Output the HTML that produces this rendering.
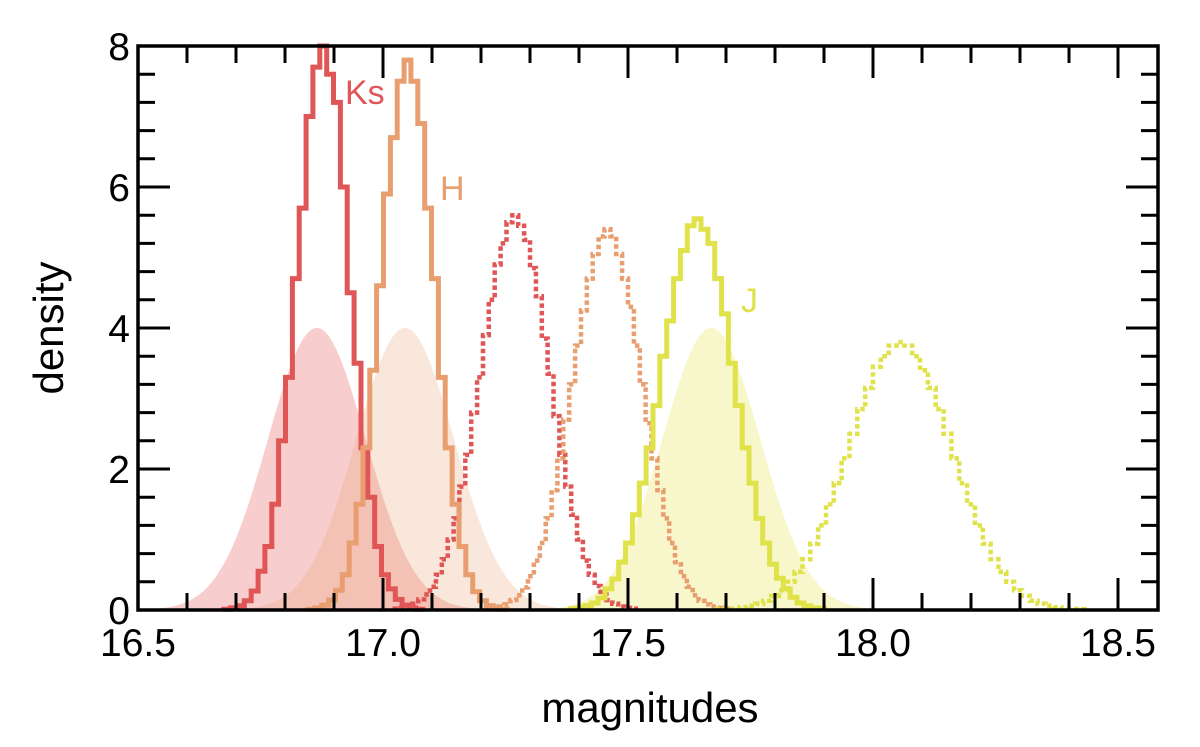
<!DOCTYPE html>
<html><head><meta charset="utf-8"><style>
html,body{margin:0;padding:0;background:#fff;}
svg{display:block;font-family:"Liberation Sans",sans-serif;}
</style></head><body>
<svg id="chart" width="1200" height="747" viewBox="0 0 1200 747" xmlns="http://www.w3.org/2000/svg"></svg>
<script>
// ---- data ----
const xTicks = [16.5, 17.0, 17.5, 18.0, 18.5];
const xTickLabels = ["16.5", "17.0", "17.5", "18.0", "18.5"];
const yTicks = [0, 2, 4, 6, 8];
const yTickLabels = ["0", "2", "4", "6", "8"];
const bandNames = ["Ks", "H", "J"];
const gaussMu = [16.865, 17.045, 17.67];
const gaussSigma = [0.0997, 0.0997, 0.0997];
const ksSolidStart = 16.675, ksSolidBin = 0.014;
const ksSolid = [0.01,0.03,0.06,0.13,0.27,0.55,0.9,1.5,2.4,3.3,4.7,5.7,7.0,7.7,8.0,7.6,7.2,6.0,4.5,3.5,2.3,1.6,0.9,0.5,0.3,0.15,0.07,0.03,0.01];
const hSolidStart = 16.847, hSolidBin = 0.014;
const hSolid = [0.01,0.03,0.07,0.14,0.28,0.5,0.95,1.5,2.3,3.4,4.6,5.9,6.7,7.5,7.8,7.5,6.9,5.7,4.7,3.3,2.3,1.5,0.9,0.5,0.26,0.13,0.06,0.03,0.01];
const jSolidStart = 17.383, jSolidBin = 0.014;
const jSolid = [0.02,0.03,0.06,0.1,0.17,0.3,0.44,0.68,0.95,1.35,1.8,2.3,2.9,3.6,4.1,4.7,5.1,5.45,5.55,5.4,5.2,4.7,4.2,3.5,2.9,2.3,1.8,1.3,0.95,0.65,0.45,0.3,0.18,0.1,0.06,0.03,0.02];
const ksDotStart = 17.024, ksDotBin = 0.012;
const ksDot = [0.02,0.03,0.05,0.09,0.15,0.22,0.33,0.5,0.72,1.0,1.3,1.75,2.2,2.8,3.3,3.9,4.4,4.9,5.2,5.5,5.6,5.45,5.25,4.85,4.45,3.85,3.35,2.75,2.2,1.75,1.35,1.0,0.7,0.5,0.34,0.22,0.14,0.09,0.05,0.03,0.02];
const hDotStart = 17.212, hDotBin = 0.012;
const hDot = [0.02,0.03,0.05,0.08,0.14,0.21,0.32,0.48,0.7,0.95,1.3,1.7,2.15,2.7,3.2,3.75,4.25,4.7,5.05,5.3,5.4,5.3,5.05,4.7,4.3,3.75,3.2,2.65,2.15,1.7,1.3,0.95,0.68,0.48,0.33,0.21,0.13,0.08,0.05,0.03,0.02];
const jDotStart = 17.68, jDotBin = 0.016;
const jDot = [0.01,0.015,0.02,0.04,0.06,0.09,0.13,0.2,0.28,0.4,0.54,0.72,0.94,1.2,1.5,1.8,2.15,2.5,2.85,3.15,3.45,3.6,3.75,3.8,3.75,3.6,3.4,3.15,2.85,2.5,2.15,1.8,1.5,1.2,0.94,0.72,0.54,0.4,0.28,0.2,0.13,0.09,0.06,0.04,0.02,0.015,0.01];

// ---- layout ----
const L = 138, R = 1158, T = 46, B = 610;
const xMin = 16.5, pxPerMag = 490;
const yMax = 8;
const X = v => L + (v - xMin) * pxPerMag;
const Y = v => B - v / yMax * (B - T);
const NS = "http://www.w3.org/2000/svg";
const svg = document.getElementById("chart");
function mk(tag, attrs, parent) {
  const e = document.createElementNS(NS, tag);
  for (const k in attrs) e.setAttribute(k, attrs[k]);
  (parent || svg).appendChild(e);
  return e;
}
const colors = ["#e05555", "#e89e6e", "#e0e24a"];
const shade = ["rgba(230,90,90,0.3)", "rgba(235,160,110,0.25)", "rgba(225,228,70,0.28)"];

// shaded gaussians
const gG = mk("g", {});


for (let i = 0; i < gaussMu.length; i++) {
  const mu = gaussMu[i], s = gaussSigma[i];
  let d = "";
  const n = 160;
  for (let j = 0; j <= n; j++) {
    const v = mu - 4 * s + 8 * s * j / n;
    const dens = Math.exp(-0.5 * ((v - mu) / s) ** 2) / (s * Math.sqrt(2 * Math.PI));
    d += (j ? "L" : "M") + X(v).toFixed(1) + "," + Y(dens).toFixed(1);
  }
  d += "Z";
  const p = mk("path", { d: d, fill: shade[i], stroke: "none" }, gG);
  
  
}

function stepPath(start, bin, vals) {
  let d = "M" + X(start).toFixed(1) + "," + Y(0).toFixed(1);
  for (let i = 0; i < vals.length; i++) {
    const x0 = X(start + i * bin), x1 = X(start + (i + 1) * bin), y = Y(vals[i]);
    d += "L" + x0.toFixed(1) + "," + y.toFixed(1) + "L" + x1.toFixed(1) + "," + y.toFixed(1);
  }
  d += "L" + X(start + vals.length * bin).toFixed(1) + "," + Y(0).toFixed(1);
  return d;
}
const hists = [
  [ksDotStart, ksDotBin, ksDot, 0, true, "hist-ks-dotted"],
  [hDotStart, hDotBin, hDot, 1, true, "hist-h-dotted"],
  [jDotStart, jDotBin, jDot, 2, true, "hist-j-dotted"],
  [ksSolidStart, ksSolidBin, ksSolid, 0, false, "hist-ks-solid"],
  [hSolidStart, hSolidBin, hSolid, 1, false, "hist-h-solid"],
  [jSolidStart, jSolidBin, jSolid, 2, false, "hist-j-solid"]
];
for (const h of hists) {
  const attrs = { d: stepPath(h[0], h[1], h[2]), fill: "none", stroke: colors[h[3]], "stroke-width": h[4] ? 4.5 : 5, "stroke-linejoin": "miter" };
  if (h[4]) attrs["stroke-dasharray"] = "4.5 3";
  const p = mk("path", attrs);
  
  
}

// band labels
const labelPos = [[345, 104], [440, 200], [741, 312]];
for (let i = 0; i < 3; i++) {
  const t = mk("text", { x: labelPos[i][0], y: labelPos[i][1], fill: colors[i], "font-size": 34 });
  t.textContent = bandNames[i];
  
  
}

// axes frame
const frame = mk("rect", { x: L, y: T, width: R - L, height: B - T, fill: "none", stroke: "#000", "stroke-width": 3.5 });



// ticks
const tg = mk("g", { stroke: "#000", "stroke-width": 3 });


for (let k = 0; k <= 21; k++) {
  const v = xMin + k * 0.1;
  const x = X(v);
  if (x > R) break;
  const major = Math.abs((v * 2) - Math.round(v * 2)) < 1e-6;
  const len = major ? 32 : 17;
  mk("line", { x1: x, y1: B, x2: x, y2: B - len }, tg);
  mk("line", { x1: x, y1: T, x2: x, y2: T + len }, tg);
}
for (let k = 0; k <= 20; k++) {
  const v = k * 0.4;
  const y = Y(v);
  const major = Math.abs(v / 2 - Math.round(v / 2)) < 1e-6;
  const len = major ? 32 : 17;
  mk("line", { x1: L, y1: y, x2: L + len, y2: y }, tg);
  mk("line", { x1: R, y1: y, x2: R - len, y2: y }, tg);
}
// tick labels
for (let i = 0; i < xTicks.length; i++) {
  const t = mk("text", { x: X(xTicks[i]), y: 656, "text-anchor": "middle", "font-size": 39, fill: "#000" });
  t.textContent = xTickLabels[i];
  
  
}
for (let i = 0; i < yTicks.length; i++) {
  const t = mk("text", { x: 130, y: Y(yTicks[i]) + 14, "text-anchor": "end", "font-size": 39, fill: "#000" });
  t.textContent = yTickLabels[i];
  
  
}
const xt = mk("text", { x: 650, y: 722, "text-anchor": "middle", "font-size": 42, fill: "#000" });
xt.textContent = "magnitudes";


const yt = mk("text", { x: 0, y: 0, "text-anchor": "middle", "font-size": 42, fill: "#000", transform: "translate(63,328) rotate(-90)" });
yt.textContent = "density";


</script>
</body></html>
